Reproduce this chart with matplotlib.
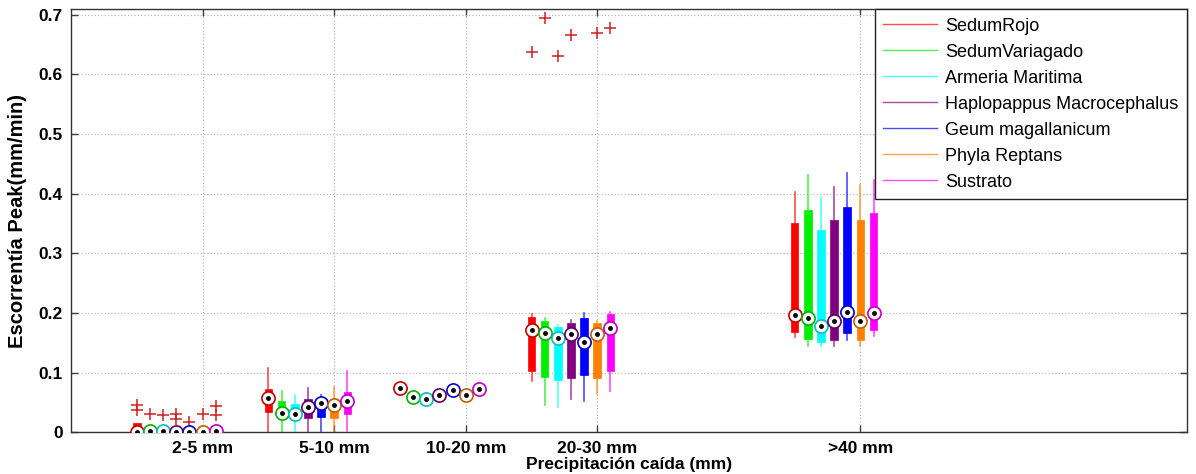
import matplotlib
matplotlib.use("Agg")
import matplotlib.pyplot as plt
from matplotlib.lines import Line2D
import numpy as np

plt.rcParams['font.family'] = ['Liberation Sans', 'DejaVu Sans']

groups = ["2-5 mm", "5-10 mm", "10-20 mm", "20-30 mm", ">40 mm"]
group_pos = [1, 2, 3, 4, 6]
species = ["SedumRojo", "SedumVariagado", "Armeria Maritima",
           "Haplopappus Macrocephalus", "Geum magallanicum",
           "Phyla Reptans", "Sustrato"]
colors = ["#FF0000", "#00EE00", "#00FFFF", "#800080", "#0000FF", "#FF8000", "#FF00FF"]

# rows: species ; columns: groups (2-5, 5-10, 10-20, 20-30, >40)
whislo = [
    [0.0, 0.0, 0.074, 0.086, 0.159],
    [0.0, 0.0, 0.059, 0.045, 0.145],
    [0.0, 0.0, 0.055, 0.043, 0.144],
    [0.0, 0.0, 0.062, 0.056, 0.144],
    [0.0, 0.0, 0.071, 0.053, 0.154],
    [0.0, 0.0, 0.062, 0.064, 0.144],
    [0.0, 0.0, 0.072, 0.070, 0.162],
]
q1 = [
    [0.0, 0.034, 0.074, 0.102, 0.168],
    [0.0, 0.023, 0.059, 0.092, 0.157],
    [0.0, 0.023, 0.055, 0.088, 0.151],
    [0.0, 0.024, 0.062, 0.091, 0.154],
    [0.0, 0.025, 0.071, 0.096, 0.166],
    [0.0, 0.024, 0.062, 0.091, 0.154],
    [0.0, 0.030, 0.072, 0.102, 0.172],
]
medians = [
    [0.001, 0.058, 0.074, 0.171, 0.196],
    [0.002, 0.032, 0.059, 0.167, 0.192],
    [0.002, 0.031, 0.055, 0.158, 0.179],
    [0.001, 0.042, 0.062, 0.164, 0.186],
    [0.001, 0.049, 0.071, 0.152, 0.201],
    [0.001, 0.045, 0.062, 0.164, 0.186],
    [0.002, 0.052, 0.072, 0.175, 0.200],
]
q3 = [
    [0.015, 0.072, 0.074, 0.194, 0.351],
    [0.004, 0.052, 0.059, 0.186, 0.372],
    [0.004, 0.048, 0.055, 0.176, 0.340],
    [0.003, 0.056, 0.062, 0.184, 0.356],
    [0.004, 0.057, 0.071, 0.191, 0.377],
    [0.003, 0.055, 0.062, 0.183, 0.356],
    [0.004, 0.068, 0.072, 0.198, 0.368],
]
whishi = [
    [0.015, 0.107, 0.074, 0.198, 0.403],
    [0.006, 0.069, 0.059, 0.191, 0.431],
    [0.006, 0.063, 0.055, 0.180, 0.393],
    [0.005, 0.074, 0.062, 0.189, 0.411],
    [0.006, 0.062, 0.071, 0.200, 0.435],
    [0.005, 0.076, 0.062, 0.187, 0.414],
    [0.006, 0.102, 0.072, 0.201, 0.423],
]
outliers = [
    [[0.045, 0.037], [], [], [0.637], []],
    [[0.030], [], [], [0.695], []],
    [[0.029], [], [], [0.631], []],
    [[0.031, 0.023], [], [], [0.667], []],
    [[0.018], [], [], [], []],
    [[0.031], [], [], [0.670], []],
    [[0.044, 0.029], [], [], [0.678], []],
]
y_ticks = [0, 0.1, 0.2, 0.3, 0.4, 0.5, 0.6, 0.7]
y_ticklabels = ["0", "0.1", "0.2", "0.3", "0.4", "0.5", "0.6", "0.7"]


def darker(c, f=0.8):
    r, g, b = matplotlib.colors.to_rgb(c)
    return (r * f, g * f, b * f)


fig = plt.figure(figsize=(11.96, 4.74), dpi=100)
ax = fig.add_axes([0.0594, 0.088, 0.9328, 0.892])

for i, sp in enumerate(species):
    off = (i - 5) * 0.1
    positions = [p + off for p in group_pos]
    stats = []
    for j in range(len(groups)):
        stats.append(dict(med=medians[i][j], q1=q1[i][j], q3=q3[i][j],
                          whislo=whislo[i][j], whishi=whishi[i][j],
                          fliers=outliers[i][j]))
    ax.bxp(stats, positions=positions, widths=0.058, patch_artist=True,
           showcaps=False, manage_ticks=False,
           boxprops=dict(facecolor=colors[i], edgecolor=colors[i], linewidth=0.5),
           whiskerprops=dict(color=colors[i], linewidth=1.2, alpha=0.7),
           medianprops=dict(linewidth=0),
           flierprops=dict(marker='+', markeredgecolor='#CC2222', markersize=9,
                           markeredgewidth=1.1, linestyle='none'),
           zorder=2)
    ax.plot(positions, medians[i], 'o', ms=9.5, mfc='white',
            mec=darker(colors[i], 0.75), mew=1.2, zorder=4, ls='none')
    ax.plot(positions, medians[i], '.', ms=5, color='black', zorder=5, ls='none')

ax.set_xlim(0, 8.48)
ax.set_ylim(0, 0.709)
ax.set_xticks(group_pos)
ax.set_xticklabels(groups, fontsize=12.5, fontweight='bold')
ax.set_yticks(y_ticks)
ax.set_yticklabels(y_ticklabels, fontsize=12.5, fontweight='bold')
ax.tick_params(direction='in', top=True, right=True, length=5, width=1,
               color='#404040')
ax.tick_params(axis='x', pad=6)
ax.tick_params(axis='y', pad=6)
ax.grid(True, linestyle=':', color='#BBBBBB', linewidth=0.9)
ax.set_axisbelow(True)
for s in ax.spines.values():
    s.set_color('#333333')
    s.set_linewidth(1)

ax.set_xlabel("Precipitación caída (mm)", fontsize=12.5, fontweight='bold', labelpad=1)
ax.set_ylabel("Escorrentía Peak(mm/min)", fontsize=14.5, fontweight='bold', labelpad=8)

handles = [Line2D([0], [0], color=c, lw=1, alpha=0.7) for c in colors]
leg = ax.legend(handles, species, loc='upper right', fontsize=13,
                frameon=True, fancybox=False, borderaxespad=0,
                handlelength=3.0, handletextpad=0.45, labelspacing=0.5,
                borderpad=0.45)
leg.get_frame().set_edgecolor('#222222')
leg.get_frame().set_linewidth(1)
leg.get_frame().set_alpha(1)

fig.savefig("out.png", dpi=100)
